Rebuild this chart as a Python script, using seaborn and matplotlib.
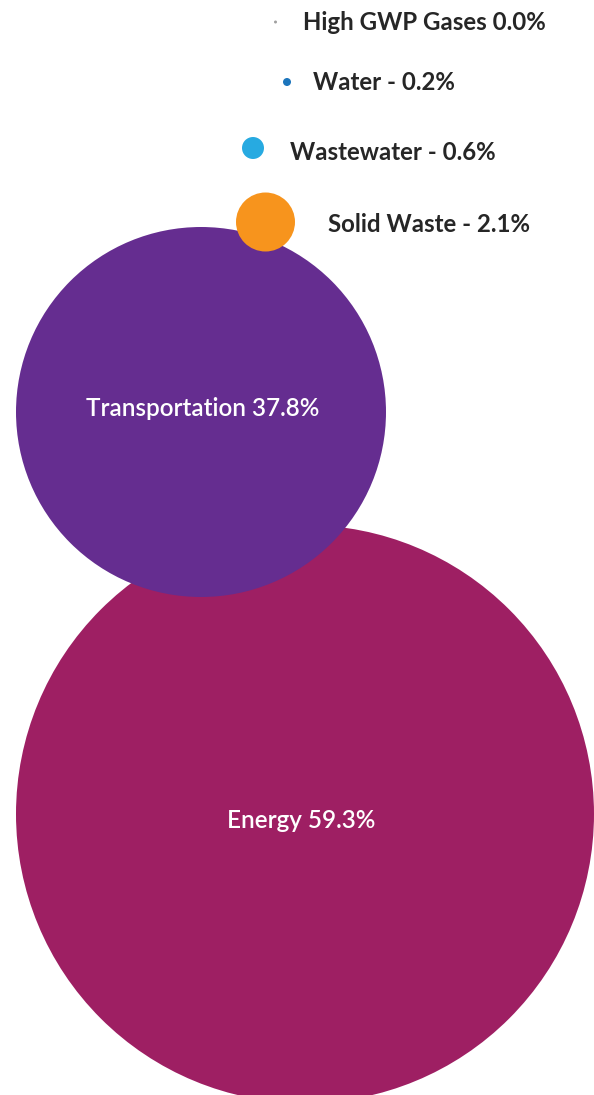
import pandas as pd
import matplotlib.pyplot as plt
import seaborn as sns

# emission sectors, share of total (%)
sectors = ['Energy', 'Transportation', 'Solid Waste', 'Wastewater', 'Water', 'High GWP Gases']
shares = [59.3, 37.8, 2.1, 0.6, 0.2, 0.0]
labels = ['Energy 59.3%', 'Transportation 37.8%', 'Solid Waste - 2.1%',
          'Wastewater - 0.6%', 'Water - 0.2%', 'High GWP Gases 0.0%']
# bubble layout (pixel units)
bubble_x = [305, 201, 265.5, 253, 287, 275.5]
bubble_y = [814, 412, 222, 148, 82, 22]
bubble_r = [289, 185, 29.5, 11, 4, 1.5]

colors = {'Energy': '#9E1F63', 'Transportation': '#652D90', 'Solid Waste': '#F7941D',
          'Wastewater': '#27AAE1', 'Water': '#1C75BC', 'High GWP Gases': '#A0A0A0'}

df = pd.DataFrame({'sector': sectors, 'share': shares, 'label': labels,
                   'x': bubble_x, 'y': bubble_y, 'r': bubble_r})

sns.set_style('white')
plt.rcParams['font.family'] = ['Lato', 'DejaVu Sans']

dpi = 100
fig = plt.figure(figsize=(5.94, 10.95), dpi=dpi)
ax = fig.add_axes([0, 0, 1, 1])

# marker area in points^2 from pixel radius
sizes = (2 * df['r'] * 72 / dpi) ** 2
sns.scatterplot(data=df, x='x', y='y', hue='sector', palette=colors, s=sizes,
                linewidth=0, legend=False, ax=ax, zorder=2)

ax.set_xlim(0, 594)
ax.set_ylim(1095, 0)
ax.axis('off')

# inside labels for the two big bubbles
inner_pos = [(301.5, 820), (202.5, 409)]
for i in range(2):
    ax.text(inner_pos[i][0], inner_pos[i][1], df['label'][i], color='white',
            fontsize=17.5, fontweight='semibold', ha='center', va='center', zorder=3)

# side labels for the small ones
label_x = [328, 290, 313, 303]
label_y = [224, 152, 82, 22]
for j, i in enumerate(range(2, 6)):
    ax.text(label_x[j], label_y[j], df['label'][i], color='#262626',
            fontsize=17.3, fontweight='bold', ha='left', va='center', zorder=3)

fig.savefig('out.png', dpi=dpi)
